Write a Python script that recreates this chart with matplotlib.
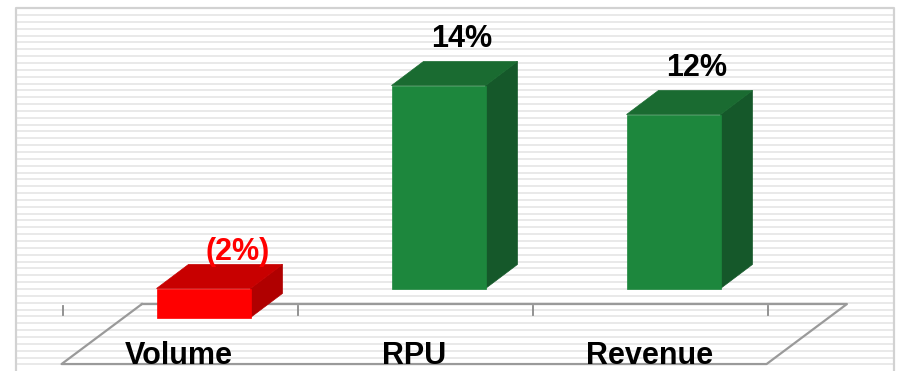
import matplotlib
matplotlib.use('Agg')
from matplotlib import pyplot as plt
from matplotlib.patches import Polygon

plt.rcParams['font.family'] = ['Liberation Sans', 'DejaVu Sans']

categories = ['Volume', 'RPU', 'Revenue']
growth = [-2, 14, 12]
growth_labels = ['(2%)', '14%', '12%']

# face colours: front, top, side
green = ('#1d873d', '#1a6b31', '#15582a')
red = ('#ff0000', '#c80000', '#b00000')

W, H = 897, 371
fig = plt.figure(figsize=(W / 100, H / 100), dpi=100)

# striped backdrop and frame, drawn in pixel units
bg = fig.add_axes([0, 0, 1, 1], zorder=0)
bg.set_xlim(0, W)
bg.set_ylim(H, 0)
bg.axis('off')
y = 15.0
while y < H:
    bg.plot([17, 893], [y, y], color='#e9e9e9', lw=1.4, solid_capstyle='butt')
    y += 6.85
bg.plot([16, 16, 894, 894], [H, 8, 8, H], color='#d2d2d2', lw=1.6)

# chart axes: x = category index, y = percent
ax = fig.add_axes([0, 0, 1, 1], zorder=1)
ax.patch.set_alpha(0)
ax.set_xlim(-0.866, 2.951)
ax.set_ylim(-5.69, 19.90)
ax.axis('off')

n = len(categories)
bar_w = 0.40
dx, dy = 0.136, 1.66          # depth of the 3d effect
floor_back, floor_front = -1.07, -5.21

# floor of the plot
ax.plot([-0.5 + 0.238, n - 0.5 + 0.238, n - 0.5 - 0.104, -0.5 - 0.104, -0.5 + 0.238],
        [floor_back, floor_back, floor_front, floor_front, floor_back],
        color='#9a9a9a', lw=1.6, zorder=1)
for k in range(n + 1):
    ax.plot([k - 0.6, k - 0.6], [-1.21, -1.83], color='#8a8a8a', lw=1.3, zorder=1)

for i, v in enumerate(growth):
    front, top_c, side_c = red if v < 0 else green
    x0, x1 = i - bar_w / 2, i + bar_w / 2
    lo, hi = min(0, v), max(0, v)
    ax.add_patch(Polygon([(x1, lo), (x1, hi), (x1 + dx, hi + dy), (x1 + dx, lo + dy)],
                         closed=True, fc=side_c, ec=side_c, lw=0.5, zorder=2))
    ax.add_patch(Polygon([(x0, hi), (x0 + dx, hi + dy), (x1 + dx, hi + dy), (x1, hi)],
                         closed=True, fc=top_c, ec=top_c, lw=0.5, zorder=2))
    ax.add_patch(Polygon([(x0, lo), (x0, hi), (x1, hi), (x1, lo)],
                         closed=True, fc=front, ec=front, lw=0.5, zorder=3))

    if v < 0:
        ax.text(i + 0.145, 2.0, growth_labels[i], color='#ff0000', fontsize=22,
                fontweight='bold', ha='center', va='baseline', zorder=4)
    else:
        ax.text(i + 0.10, v + 2.65, growth_labels[i], color='black', fontsize=22,
                fontweight='bold', ha='center', va='baseline', zorder=4)

    ax.text(i - 0.104, -5.22, categories[i], color='black', fontsize=22,
            fontweight='bold', ha='center', va='baseline', zorder=4)

fig.savefig('out.png', dpi=100)
